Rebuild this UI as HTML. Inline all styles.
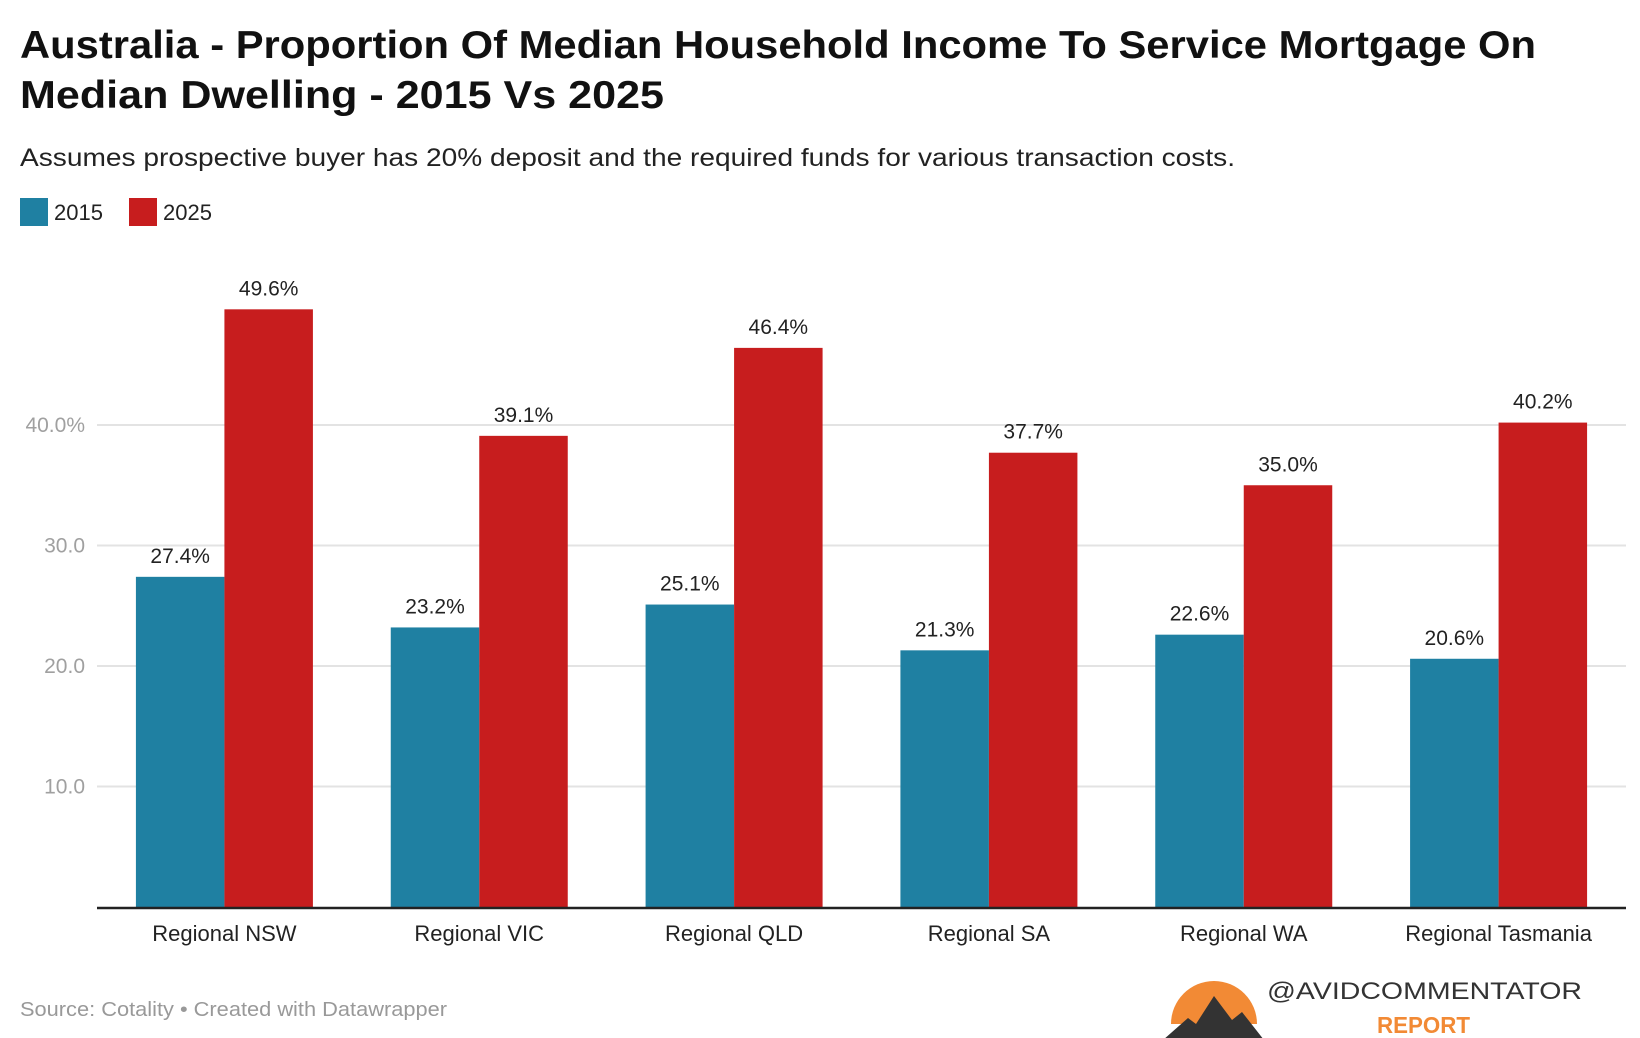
<!DOCTYPE html>
<html><head><meta charset="utf-8">
<style>
body{margin:0;background:#fff;font-family:"Liberation Sans",sans-serif;}
#wrap{position:relative;width:1640px;height:1038px;overflow:hidden;}
</style></head>
<body>
<div id="wrap">
<svg width="1640" height="1038" id="svg" font-family="Liberation Sans, sans-serif">
<text x="20" y="58" font-size="39" font-weight="bold" fill="#111" textLength="1516" lengthAdjust="spacingAndGlyphs">Australia - Proportion Of Median Household Income To Service Mortgage On</text>
<text x="20" y="108" font-size="39" font-weight="bold" fill="#111" textLength="644" lengthAdjust="spacingAndGlyphs">Median Dwelling - 2015 Vs 2025</text>
<text x="20" y="166" font-size="25" fill="#222" textLength="1215" lengthAdjust="spacingAndGlyphs">Assumes prospective buyer has 20% deposit and the required funds for various transaction costs.</text>
<g>
<rect x="20" y="198" width="28" height="28" fill="#1f80a2"/>
<text x="54" y="220" font-size="22" fill="#222">2015</text>
<rect x="129" y="198" width="28" height="28" fill="#c71d1e"/>
<text x="163" y="220" font-size="22" fill="#222">2025</text>
</g>
<g id="plot"></g>
<text x="20" y="1016" font-size="20" fill="#999" textLength="427" lengthAdjust="spacingAndGlyphs">Source: Cotality • Created with Datawrapper</text>
<g>
<path d="M1171 1024 A43 43 0 1 1 1257 1024 Z" fill="#f28a35"/>
<path d="M1163 1040 L1188 1018 L1196 1024 L1214 996 L1232 1020 L1242 1012 L1264 1040 Z" fill="#333"/>
<text x="1267" y="999" font-size="24" fill="#333" textLength="315" lengthAdjust="spacingAndGlyphs">@AVIDCOMMENTATOR</text>
<text x="1377" y="1033" font-size="23" font-weight="bold" fill="#f28a35" textLength="93" lengthAdjust="spacingAndGlyphs">REPORT</text>
</g>
</svg>
</div>
<script>
const categories=["Regional NSW","Regional VIC","Regional QLD","Regional SA","Regional WA","Regional Tasmania"];
const values2015=[27.4,23.2,25.1,21.3,22.6,20.6];
const values2025=[49.6,39.1,46.4,37.7,35.0,40.2];
const yTicks=[10,20,30,40];
const yTickLabels=["10.0","20.0","30.0","40.0%"];
const NS="http://www.w3.org/2000/svg";
const g=document.getElementById('plot');
const x0=97,x1=1626,yBase=907,pxPerUnit=12.05;
const band=(x1-x0)/categories.length, barW=88.5;
function y(v){return yBase-v*pxPerUnit;}
function xc(i){return x0+band*(i+0.5);}
function mk(tag,attrs){const e=document.createElementNS(NS,tag);for(const k in attrs)e.setAttribute(k,attrs[k]);g.appendChild(e);return e;}
yTicks.forEach((t,i)=>{
  const l=mk('line',{x1:x0,x2:x1,y1:y(t),y2:y(t),stroke:'#e3e3e3','stroke-width':2});
  
  
  const tx=mk('text',{x:85,y:y(t)+7,'text-anchor':'end','font-size':21,fill:'#a0a0a0'});
  tx.textContent=yTickLabels[i];
  
  
});
categories.forEach((c,i)=>{
  const cx=xc(i);
  [[values2015[i],'#1f80a2',cx-barW,'bar-2015'],[values2025[i],'#c71d1e',cx,'bar-2025']].forEach(([v,col,bx,nm])=>{
    const r=mk('rect',{x:bx,y:y(v),width:barW,height:yBase-y(v),fill:col});
    
    
    const t=mk('text',{x:bx+barW/2,y:y(v)-14,'text-anchor':'middle','font-size':21,fill:'#222'});
    t.textContent=v.toFixed(1)+'%';
    
    
  });
  const xl=mk('text',{x:cx,y:941,'text-anchor':'middle','font-size':22,fill:'#222'});
  xl.textContent=c;
  
  
});
const ax=mk('line',{x1:x0,x2:x1,y1:yBase+1,y2:yBase+1,stroke:'#222','stroke-width':2.5});


</script>
</body></html>
